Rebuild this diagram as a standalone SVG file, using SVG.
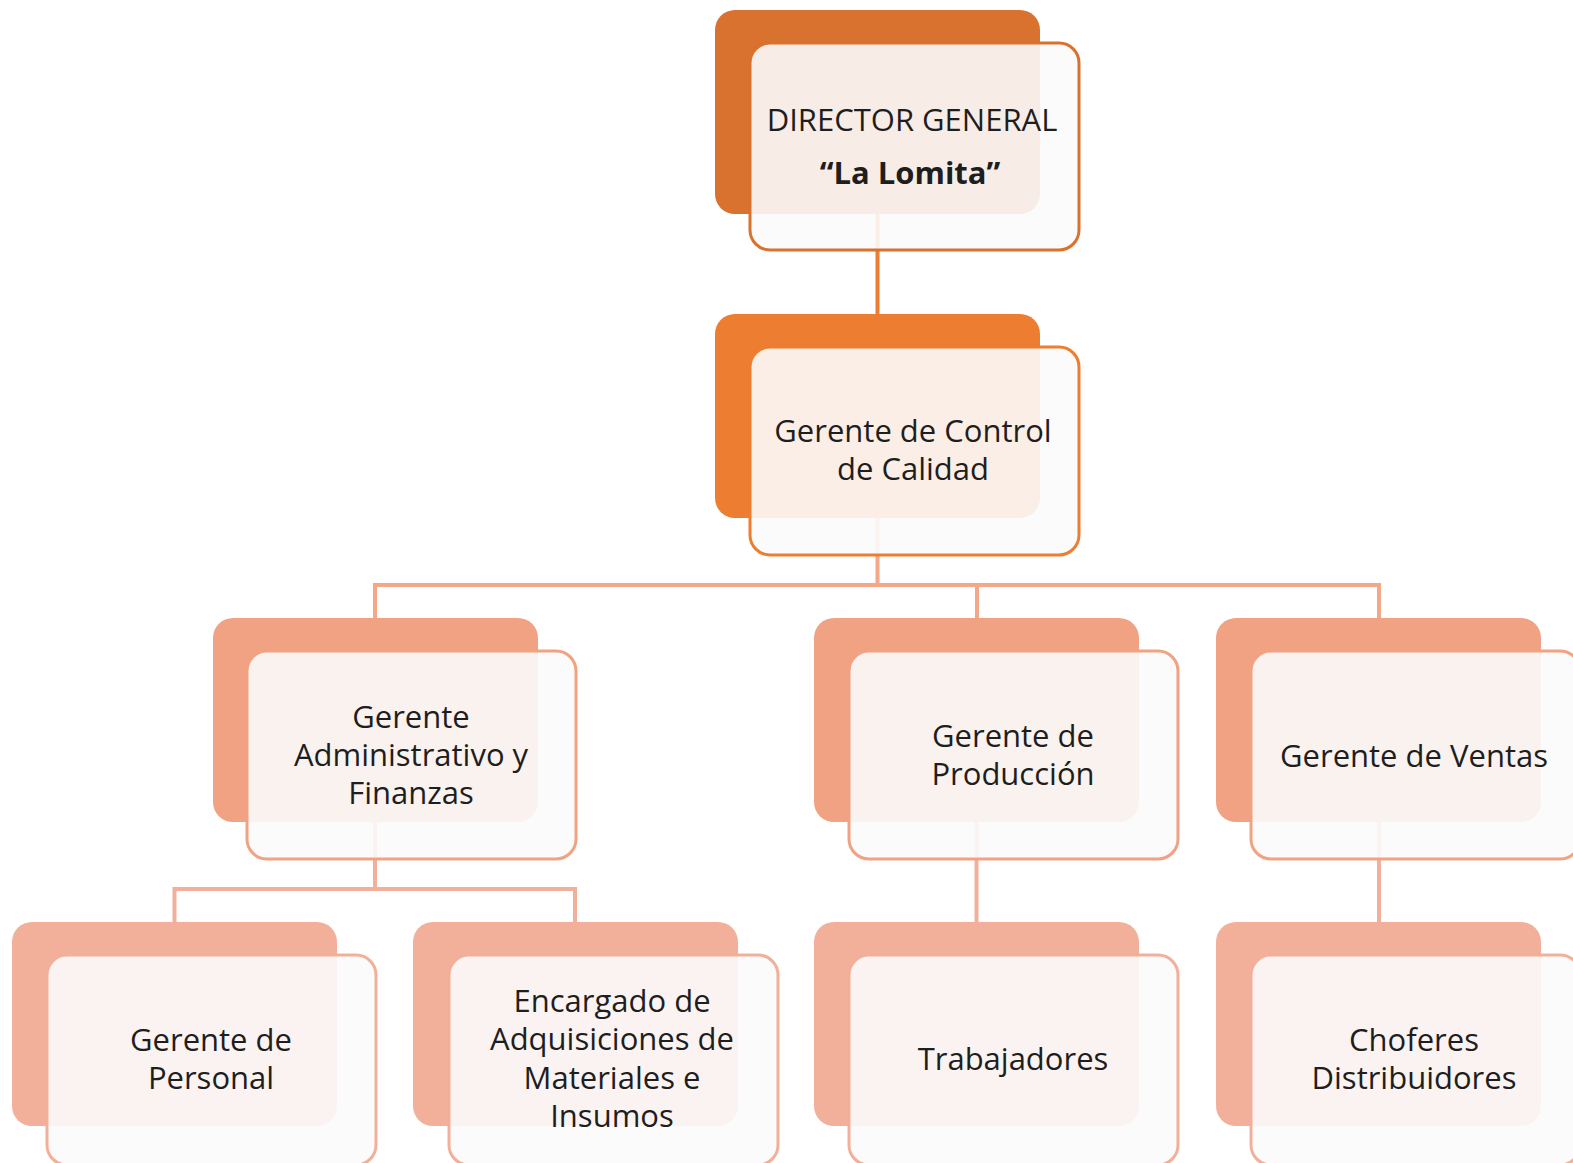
<svg xmlns="http://www.w3.org/2000/svg" width="1573" height="1163" viewBox="0 0 1573 1163">
<style>
.back{stroke:none}
.front{fill:#FBFBFB;fill-opacity:0.9;stroke-width:3}
.t{font-family:"Open Sans","Liberation Sans",sans-serif;font-size:31px;fill:#1E1E1E;text-anchor:middle}
.b{font-weight:bold}
.c{fill:none;stroke-width:4}
</style>
<rect width="1573" height="1163" fill="#FFFFFF"/>
<g id="connectors">
<path class="c" stroke="#ED7D31" d="M877.5 210 V316"/>
<path class="c" stroke="#F4A888" d="M877.5 515 V585 M375 620 V585 H1379 V620 M977 585 V620"/>
<path class="c" stroke="#F2B09A" d="M375 820 V889 M174.5 924 V889 H575 V924 M976.5 820 V924 M1379 820 V924"/>
</g>
<g id="n1">
<rect class="back" x="715" y="10" width="325" height="204" rx="20" fill="#D9712F"/>
<rect class="front" x="750" y="43" width="329" height="207" rx="20" stroke="#D9712F"/>
<text class="t" x="912" y="131">DIRECTOR GENERAL</text>
<text class="t b" x="910" y="184">“La Lomita”</text>
</g>
<g id="n2">
<rect class="back" x="715" y="314" width="325" height="204" rx="20" fill="#ED7D31"/>
<rect class="front" x="750" y="347" width="329" height="208" rx="20" stroke="#ED7D31"/>
<text class="t" x="913"><tspan x="913" y="442">Gerente de Control</tspan><tspan x="913" y="480">de Calidad</tspan></text>
</g>
<g id="n3a">
<rect class="back" x="213" y="618" width="325" height="204" rx="20" fill="#F1A282"/>
<rect class="front" x="247" y="651" width="329" height="208" rx="20" stroke="#F1A282"/>
<text class="t" x="411"><tspan x="411" y="728">Gerente</tspan><tspan x="411" y="766">Administrativo y</tspan><tspan x="411" y="804">Finanzas</tspan></text>
</g>
<g id="n3b">
<rect class="back" x="814" y="618" width="325" height="204" rx="20" fill="#F1A282"/>
<rect class="front" x="849" y="651" width="329" height="208" rx="20" stroke="#F1A282"/>
<text class="t" x="1013"><tspan x="1013" y="747">Gerente de</tspan><tspan x="1013" y="785">Producción</tspan></text>
</g>
<g id="n3c">
<rect class="back" x="1216" y="618" width="325" height="204" rx="20" fill="#F1A282"/>
<rect class="front" x="1251" y="651" width="329" height="208" rx="20" stroke="#F1A282"/>
<text class="t" x="1414" y="767">Gerente de Ventas</text>
</g>
<g id="n4a">
<rect class="back" x="12" y="922" width="325" height="204" rx="20" fill="#F2B09A"/>
<rect class="front" x="47" y="955" width="329" height="210" rx="20" stroke="#F2B09A"/>
<text class="t" x="211"><tspan x="211" y="1051">Gerente de</tspan><tspan x="211" y="1089">Personal</tspan></text>
</g>
<g id="n4b">
<rect class="back" x="413" y="922" width="325" height="204" rx="20" fill="#F2B09A"/>
<rect class="front" x="449" y="955" width="329" height="210" rx="20" stroke="#F2B09A"/>
<text class="t" x="612"><tspan x="612" y="1012">Encargado de</tspan><tspan x="612" y="1050">Adquisiciones de</tspan><tspan x="612" y="1089">Materiales e</tspan><tspan x="612" y="1127">Insumos</tspan></text>
</g>
<g id="n4c">
<rect class="back" x="814" y="922" width="325" height="204" rx="20" fill="#F2B09A"/>
<rect class="front" x="849" y="955" width="329" height="210" rx="20" stroke="#F2B09A"/>
<text class="t" x="1013" y="1070">Trabajadores</text>
</g>
<g id="n4d">
<rect class="back" x="1216" y="922" width="325" height="204" rx="20" fill="#F2B09A"/>
<rect class="front" x="1251" y="955" width="329" height="210" rx="20" stroke="#F2B09A"/>
<text class="t" x="1414"><tspan x="1414" y="1051">Choferes</tspan><tspan x="1414" y="1089">Distribuidores</tspan></text>
</g>
</svg>
